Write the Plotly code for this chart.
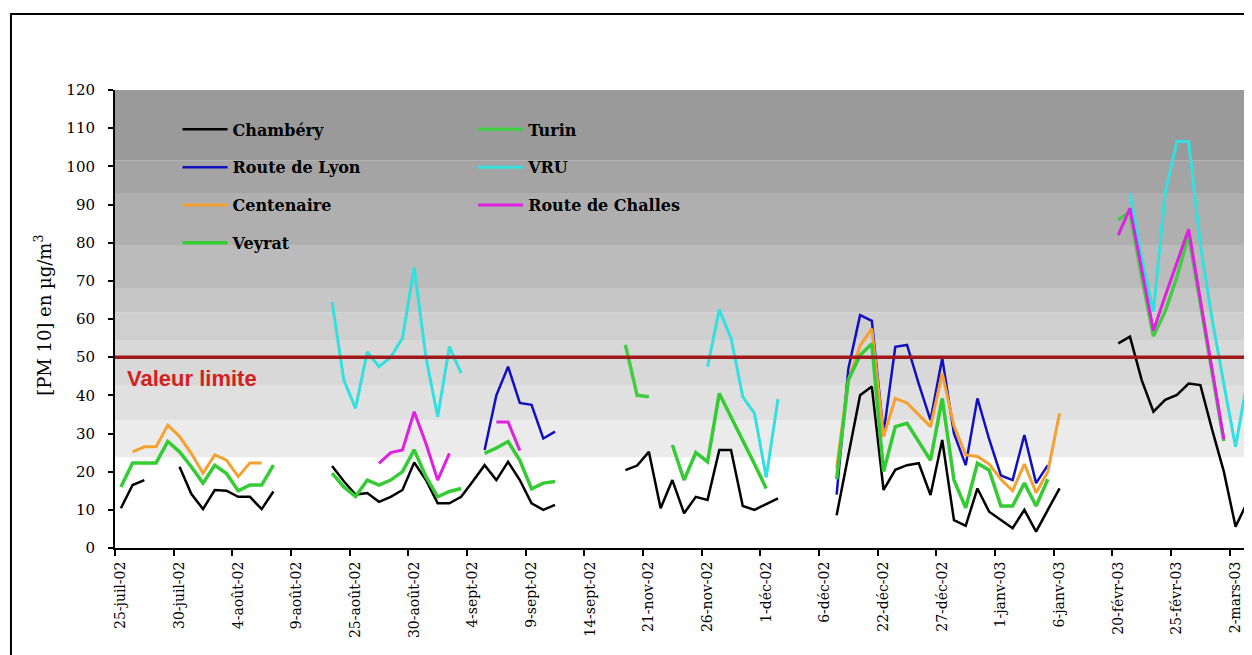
import plotly.graph_objects as go
import pandas as pd

N = None

# ---- categories (one row per day, five measurement campaigns) ----
MONTHS_FR = {1: "janv", 2: "févr", 3: "mars", 7: "juil", 8: "août",
             9: "sept", 11: "nov", 12: "déc"}
PERIODS = [("2002-07-25", "2002-08-09"), ("2002-08-21", "2002-09-14"),
           ("2002-11-17", "2002-12-06"), ("2002-12-18", "2003-01-06"),
           ("2003-02-16", "2003-03-06")]
dates = []
for a, b in PERIODS:
    for d in pd.date_range(a, b):
        dates.append(f"{d.day}-{MONTHS_FR[d.month]}-{d.strftime('%y')}")

# ---- series values [PM10] µg/m3 ----
chambery = [
    10.4, 16.5, 17.8, N, N, 21.3, 14.2, 10.2, 15.2, 15.0,
    13.4, 13.4, 10.2, 14.8, N, N, N, N, 21.5, 17.5,
    14.0, 14.4, 12.1, 13.4, 15.2, 22.4, 17.8, 11.7, 11.7, 13.4,
    17.5, 21.7, 17.8, 22.6, 17.8, 11.7, 10.0, 11.3, N, N,
    N, N, N, 20.4, 21.6, 25.2, 10.4, 17.8, 9.1, 13.4,
    12.6, 25.7, 25.7, 11.0, 10.0, 11.5, 13.0, N, N, N,
    N, 8.6, 24.0, 40.0, 42.3, 15.2, 20.5, 21.7, 22.2, 13.9,
    28.3, 7.3, 5.8, 15.6, 9.5, 7.3, 5.2, 10.0, 4.3, 10.0,
    15.6, N, N, N, N, 53.6, 55.4, 44.0, 35.7, 38.8,
    40.1, 43.1, 42.7, 31.0, 20.0, 5.6, 12.0, 21.0, N, N]

route_lyon = [
    N, N, N, N, N, N, N, N, N, N,
    N, N, N, N, N, N, N, N, N, N,
    N, N, N, N, N, N, N, N, N, N,
    N, 25.7, 40.0, 47.5, 38.0, 37.5, 28.7, 30.5, N, N,
    N, N, N, N, N, N, N, N, N, N,
    N, N, N, N, N, N, N, N, N, N,
    N, 14.0, 47.0, 61.0, 59.5, 30.0, 52.7, 53.2, 43.0, 33.5,
    49.7, 30.0, 21.7, 39.2, 28.5, 19.0, 17.8, 29.6, 17.0, 21.7,
    N, N, N, N, N, N, N, N, N, N,
    N, N, N, N, N, N, N, N, N, N]

centenaire = [
    N, 25.2, 26.5, 26.5, 32.2, 29.2, 24.8, 19.6, 24.4, 23.0,
    18.7, 22.3, 22.3, N, N, N, N, N, N, N,
    N, N, N, N, N, N, N, N, N, N,
    N, N, N, N, N, N, N, N, N, N,
    N, N, N, N, N, N, N, N, N, N,
    N, N, N, N, N, N, N, N, N, N,
    N, 21.0, 44.0, 53.0, 57.5, 29.2, 39.2, 38.0, 35.0, 31.8,
    45.8, 32.0, 24.4, 24.0, 22.0, 18.0, 15.0, 22.0, 14.5, 20.0,
    35.3, N, N, N, N, N, N, N, N, N,
    N, N, N, N, N, N, N, N, N, N]

veyrat = [
    16.0, 22.3, 22.3, 22.3, 27.9, 25.2, 21.3, 17.0, 21.7, 19.5,
    15.0, 16.5, 16.5, 21.7, N, N, N, N, 19.6, 16.0,
    13.5, 17.8, 16.5, 17.8, 20.0, 25.7, 18.7, 13.4, 14.8, 15.6,
    N, 24.8, 26.2, 27.9, 23.0, 15.5, 17.0, 17.4, N, N,
    N, N, N, N, N, N, N, 27.0, 17.8, 25.0,
    22.6, 40.5, 34.5, 28.3, 22.0, 15.6, N, N, N, N,
    N, 18.0, 44.0, 50.5, 53.5, 20.0, 31.8, 32.7, 28.0, 23.0,
    39.2, 17.8, 10.5, 22.2, 20.4, 11.0, 11.0, 17.0, 11.0, 18.0,
    N, N, N, N, N, N, N, N, N, N,
    N, N, N, N, N, N, N, N, N, N]

turin = [
    N, N, N, N, N, N, N, N, N, N,
    N, N, N, N, N, N, N, N, N, N,
    N, N, N, N, N, N, N, N, N, N,
    N, N, N, N, N, N, N, N, N, N,
    N, N, N, 53.2, 40.0, 39.6, N, N, N, N,
    N, N, N, N, N, N, N, N, N, N,
    N, N, N, N, N, N, N, N, N, N,
    N, N, N, N, N, N, N, N, N, N,
    N, N, N, N, N, 86.0, 88.0, 71.0, 55.5, 62.0,
    71.0, 82.0, 64.0, 46.0, 28.0, N, N, N, N, N]

vru = [
    N, N, N, N, N, N, N, N, N, N,
    N, N, N, N, N, N, N, N, 64.5, 44.0,
    36.6, 51.4, 47.5, 50.0, 55.0, 73.5, 50.0, 34.4, 52.7, 45.8,
    N, N, N, N, N, N, N, N, N, N,
    N, N, N, N, N, N, N, N, N, N,
    47.5, 62.4, 55.0, 39.6, 35.3, 18.5, 39.0, N, N, N,
    N, N, N, N, N, N, N, N, N, N,
    N, N, N, N, N, N, N, N, N, N,
    N, N, N, N, N, N, 93.0, 76.0, 62.0, 93.0,
    106.5, 106.5, 79.5, 60.0, 43.0, 26.5, 44.0, 42.0, N, N]

route_challes = [
    N, N, N, N, N, N, N, N, N, N,
    N, N, N, N, N, N, N, N, N, N,
    N, N, 22.2, 25.0, 25.7, 35.7, 27.4, 17.8, 24.8, N,
    N, N, 33.0, 33.0, 25.5, N, N, N, N, N,
    N, N, N, N, N, N, N, N, N, N,
    N, N, N, N, N, N, N, N, N, N,
    N, N, N, N, N, N, N, N, N, N,
    N, N, N, N, N, N, N, N, N, N,
    N, N, N, N, N, 82.0, 89.0, 73.0, 57.0, 66.0,
    75.0, 83.5, 65.0, 47.0, 28.5, N, 28.3, 36.0, N, N]

VALEUR_LIMITE = 50

# background gradient bands (value ranges)
band_edges = [23.8, 33.5, 42.7, 54.5, 61.8, 68.1, 79.4, 93.0, 101.6, 120]
band_colors = ["#ebebeb", "#e0e0e0", "#d8d8d8", "#cfcfcf", "#c6c6c6",
               "#bbbbbb", "#afafaf", "#a4a4a4", "#9a9a9a"]

series = [
    ("Chambéry", chambery, "#000000", 2.5, "legend"),
    ("Route de Lyon", route_lyon, "#1010c0", 2.5, "legend"),
    ("Centenaire", centenaire, "#f5a030", 3, "legend"),
    ("Veyrat", veyrat, "#33cc33", 3.5, "legend"),
    ("Turin", turin, "#44cc44", 3.5, "legend2"),
    ("VRU", vru, "#33e0e0", 3, "legend2"),
    ("Route de Challes", route_challes, "#e020e0", 3, "legend2"),
]

fig = go.Figure()
for name, vals, col, w, lg in series:
    fig.add_trace(go.Scatter(
        x=dates, y=vals, mode="lines", name=name,
        line=dict(color=col, width=w), connectgaps=False,
        legend=lg, legendgroup=name, hoverinfo="skip"))

shapes = []
for i, c in enumerate(band_colors):
    shapes.append(dict(type="rect", xref="paper", yref="y", x0=0, x1=1,
                       y0=band_edges[i], y1=band_edges[i + 1],
                       fillcolor=c, line=dict(width=0), layer="below"))
shapes.append(dict(type="line", xref="paper", yref="y", x0=0, x1=1,
                   y0=VALEUR_LIMITE, y1=VALEUR_LIMITE,
                   line=dict(color="#a01818", width=3.5), layer="above"))
# outer chart frame
shapes.append(dict(type="rect", xref="paper", yref="paper",
                   x0=-0.0915, x1=1.3, y0=-0.6, y1=1.166,
                   line=dict(color="black", width=2), fillcolor="rgba(0,0,0,0)"))

legend_font = dict(family="DejaVu Serif", size=16, color="black", weight="bold")

# page body has an 8px margin: figure is 1244x647 so plot area spans x 115-1252, y 90-548
fig.update_layout(
    width=1244, height=647,
    margin=dict(l=107, r=0, t=82, b=107),
    paper_bgcolor="white", plot_bgcolor="white",
    shapes=shapes,
    showlegend=True,
    legend=dict(x=0.055, y=0.951, xanchor="left", yanchor="top",
                bgcolor="rgba(0,0,0,0)", font=legend_font, itemwidth=45,
                tracegroupgap=14, orientation="v"),
    legend2=dict(x=0.315, y=0.951, xanchor="left", yanchor="top",
                 bgcolor="rgba(0,0,0,0)", font=legend_font, itemwidth=45,
                 tracegroupgap=14, orientation="v"),
    xaxis=dict(type="category", range=[-0.5, 96.4], tickmode="linear",
               tick0=0, dtick=5, tickson="boundaries", ticks="outside",
               ticklen=6, tickwidth=1.5, tickcolor="black", tickangle=-90,
               showline=True, linecolor="black", linewidth=2,
               showgrid=False, zeroline=False, ticklabelstandoff=6,
               tickfont=dict(family="DejaVu Serif", size=14, color="black")),
    yaxis=dict(range=[0, 120], tickmode="linear", tick0=0, dtick=10,
               ticks="outside", ticklen=5, tickcolor="black", tickwidth=1.5,
               showline=True, linecolor="black", linewidth=2,
               showgrid=False, zeroline=False, ticklabelstandoff=10,
               tickfont=dict(family="DejaVu Serif", size=15, color="black")),
    annotations=[
        dict(text="[PM 10] en µg/m<sup>3</sup>", xref="paper", yref="paper",
             x=-0.0633, y=0.507, textangle=-90, showarrow=False,
             xanchor="center", yanchor="middle",
             font=dict(family="DejaVu Serif", size=18, color="black")),
        dict(text="<b>Valeur limite</b>", xref="paper", yref="y",
             x=0.009, y=44.5, xanchor="left", yanchor="middle", showarrow=False,
             font=dict(family="Liberation Sans", size=22, color="#d42020")),
    ],
)

fig.write_html("out.html")
